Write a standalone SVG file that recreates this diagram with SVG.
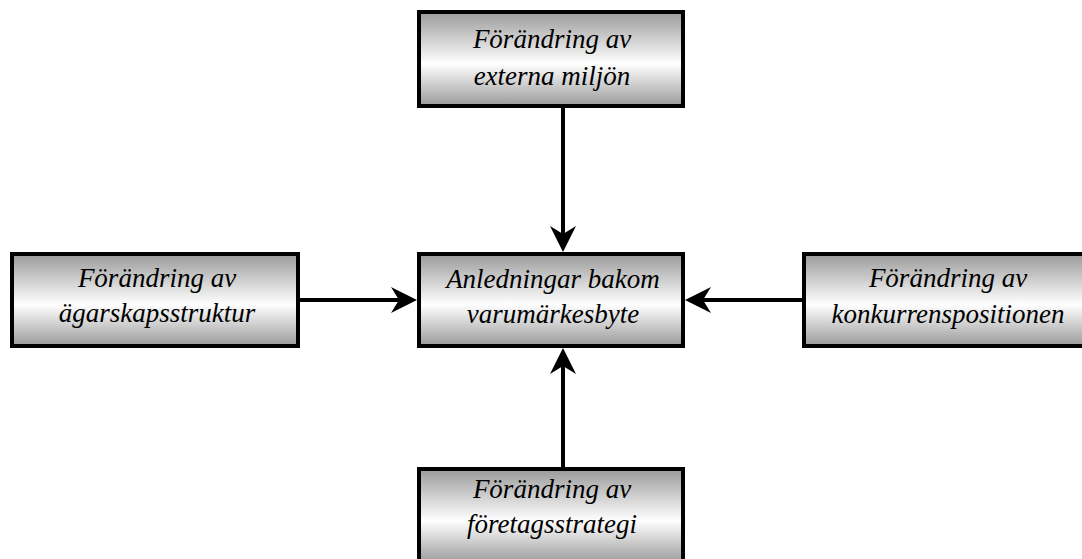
<svg xmlns="http://www.w3.org/2000/svg" width="1082" height="559" viewBox="0 0 1082 559">
  <style>
    .box { fill: url(#metal); stroke: #000; stroke-width: 4; }
    .lbl { font-family: "Liberation Serif", "DejaVu Serif", serif; font-style: italic; font-size: 27px; fill: #000; text-anchor: middle; }
    .conn { stroke: #000; stroke-width: 4; fill: none; marker-end: url(#arrow); }
  </style>
  <defs>
    <linearGradient id="metal" x1="0" y1="0" x2="0" y2="1">
      <stop offset="0" stop-color="#9a9a9a"/>
      <stop offset="0.55" stop-color="#ffffff"/>
      <stop offset="1" stop-color="#9a9a9a"/>
    </linearGradient>
    <marker id="arrow" viewBox="0 0 26 26" refX="8" refY="13" markerWidth="26" markerHeight="26" markerUnits="userSpaceOnUse" orient="auto">
      <path d="M26,13 L0,0 L8,13 L0,26 Z" fill="#000"/>
    </marker>
  </defs>
  <rect width="1082" height="559" fill="#fff"/>
  <g id="connectors">
    <line class="conn" x1="563" y1="108" x2="563" y2="234"/>
    <line class="conn" x1="563" y1="467" x2="563" y2="366"/>
    <line class="conn" x1="300" y1="300" x2="399" y2="300"/>
    <line class="conn" x1="802" y1="300" x2="703" y2="300"/>
  </g>
  <g id="node-top">
    <rect class="box" x="419" y="12" width="264" height="94"/>
    <text class="lbl" x="552" y="48">Förändring av</text>
    <text class="lbl" x="552" y="85">externa miljön</text>
  </g>
  <g id="node-left">
    <rect class="box" x="12" y="254" width="286" height="92"/>
    <text class="lbl" x="157" y="287">Förändring av</text>
    <text class="lbl" x="157" y="322">ägarskapsstruktur</text>
  </g>
  <g id="node-center">
    <rect class="box" x="419" y="254" width="264" height="92"/>
    <text class="lbl" x="553" y="288">Anledningar bakom</text>
    <text class="lbl" x="553" y="323">varumärkesbyte</text>
  </g>
  <g id="node-right">
    <rect class="box" x="804" y="254" width="286" height="92"/>
    <text class="lbl" x="948" y="287">Förändring av</text>
    <text class="lbl" x="948" y="323">konkurrenspositionen</text>
  </g>
  <g id="node-bottom">
    <rect class="box" x="419" y="469" width="264" height="94"/>
    <text class="lbl" x="552" y="498">Förändring av</text>
    <text class="lbl" x="552" y="533">företagsstrategi</text>
  </g>
</svg>
